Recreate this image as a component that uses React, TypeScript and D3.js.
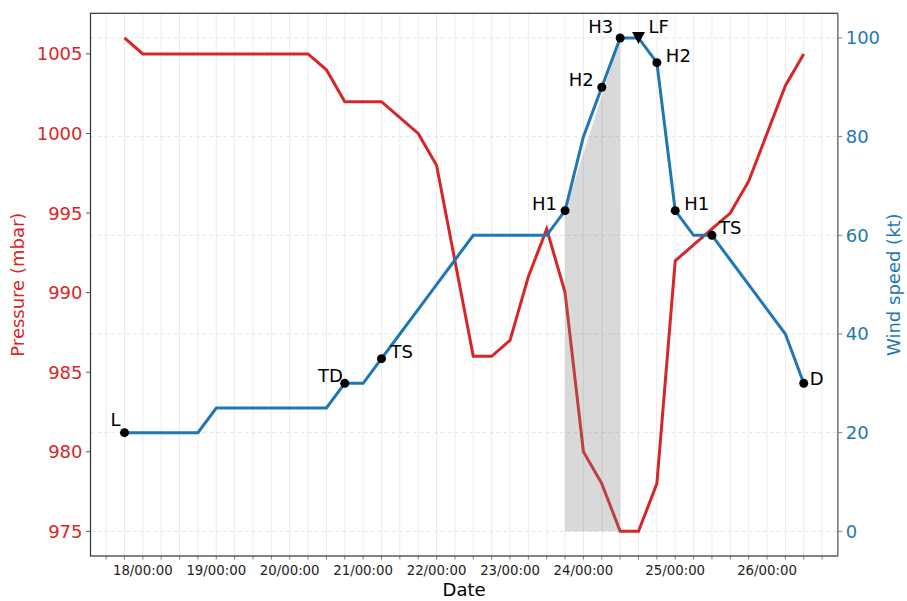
import React from "react";
import * as d3 from "d3";

// ---- Data ----
const dates: string[] = [
  "17/18:00", "18/00:00", "18/06:00", "18/12:00", "18/18:00",
  "19/00:00", "19/06:00", "19/12:00", "19/18:00",
  "20/00:00", "20/06:00", "20/12:00", "20/18:00",
  "21/00:00", "21/06:00", "21/12:00", "21/18:00",
  "22/00:00", "22/06:00", "22/12:00", "22/18:00",
  "23/00:00", "23/06:00", "23/12:00", "23/18:00",
  "24/00:00", "24/06:00", "24/12:00", "24/15:00", "24/18:00",
  "25/00:00", "25/06:00", "25/12:00", "25/18:00", "25/21:00",
  "26/00:00", "26/06:00", "26/12:00",
];

const pressure: number[] = [
  1006, 1005, 1005, 1005, 1005, 1005, 1005, 1005, 1005, 1005, 1005,
  1004, 1002, 1002, 1002, 1001, 1000, 998, 992, 986, 986, 987, 991,
  994, 990, 980, 978, 975, 975, 978, 992, 993, 994, 995, 997, 1000,
  1003, 1005,
];

const wind: number[] = [
  20, 20, 20, 20, 20, 25, 25, 25, 25, 25, 25, 25, 30, 30, 35, 40, 45,
  50, 55, 60, 60, 60, 60, 60, 65, 80, 90, 100, 100, 95, 65, 60, 60, 55,
  50, 45, 40, 30,
];

const statusIdx: number[] = [0, 12, 14, 24, 26, 27, 28, 29, 30, 32, 37];
const statusLabel: string[] = ["L", "TD", "TS", "H1", "H2", "H3", "LF", "H2", "H1", "TS", "D"];

const pressureTicks: number[] = [975, 980, 985, 990, 995, 1000, 1005];
const windTicks: number[] = [0, 20, 40, 60, 80, 100];

// shaded rapid-intensification span (indices)
const shadeIdx: number[] = [24, 27];

// label offsets (styling)
const labelStyle: Record<string, [number, number, string]> = {
  "0": [-4, -6, "end"],
  "12": [-2, 0, "end"],
  "14": [9, 0, "start"],
  "24": [-8, 0, "end"],
  "26": [-8, 0, "end"],
  "27": [-7, -4, "end"],
  "28": [10, -4, "start"],
  "29": [9, 0, "start"],
  "30": [9, 0, "start"],
  "32": [7, 0, "start"],
  "37": [6, 3, "start"],
};

const RED = "#d62728";
const BLUE = "#1f77b4";
const FONT = "DejaVu Sans, sans-serif";

export default function App() {
  const W = 907, H = 601;
  const L = 90.5, R = 837.7, T = 13.3, B = 556;
  const n = pressure.length;
  const margin = (n - 1) * 0.05;
  const x = d3.scaleLinear().domain([-margin, n - 1 + margin]).range([L, R]);
  const pMin = d3.min(pressure)!, pMax = d3.max(pressure)!;
  const pm = (pMax - pMin) * 0.05;
  const yP = d3.scaleLinear().domain([pMin - pm, pMax + pm]).range([B, T]);
  const wMax = d3.max(wind)!;
  const wm = (wMax - 0) * 0.05;
  const yW = d3.scaleLinear().domain([0 - wm, wMax + wm]).range([B, T]);

  const idx = d3.range(n);
  const pLine = d3.line<number>().x((i) => x(i)).y((i) => yP(pressure[i]))(idx)!;
  const wLine = d3.line<number>().x((i) => x(i)).y((i) => yW(wind[i]))(idx)!;

  const grid = d3.range(Math.ceil(-margin), Math.floor(n - 1 + margin) + 1);
  const majors = idx.filter((i) => dates[i].endsWith("00:00"));

  const [s0, s1] = shadeIdx;
  const shade = `M${x(s0)},${yW(0)}L${x(s0)},${yW(wind[s0])}L${x(s1)},${yW(wind[s1])}L${x(s1)},${yW(0)}Z`;

  return (
    <svg width={W} height={H} style={{ position: "absolute", left: 0, top: 0, background: "#fff" }} fontFamily={FONT}>
      <rect x={0} y={0} width={W} height={H} fill="#fff" />
      {/* vertical grid */}
      {grid.map((i) => (
        <line key={"g" + i} x1={x(i)} x2={x(i)} y1={T} y2={B} stroke="#ebebeb" strokeWidth={1} />
      ))}
      {/* horizontal dashed grid (wind axis) */}
      {windTicks.map((t) => (
        <line key={"hg" + t} x1={L} x2={R} y1={yW(t)} y2={yW(t)} stroke="#e3e3e3" strokeWidth={1} strokeDasharray="4,3" />
      ))}
      {/* pressure line */}
      <path d={pLine} fill="none" stroke={RED} strokeWidth={3} strokeLinejoin="miter" />
      {/* shading */}
      <path d={shade} fill="#808080" fillOpacity={0.3} />
      {/* wind line */}
      <path d={wLine} fill="none" stroke={BLUE} strokeWidth={3} />
      {/* status markers */}
      {statusIdx.map((i, k) => {
        const cx = x(i), cy = yW(wind[i]);
        const st = labelStyle[String(i)];
        const mark = statusLabel[k] === "LF" ? (
          <path d={`M${cx - 6.5},${cy - 6}L${cx + 6.5},${cy - 6}L${cx},${cy + 6}Z`} fill="#000" />
        ) : (
          <circle cx={cx} cy={cy} r={4.5} fill="#000" />
        );
        return (
          <g key={"s" + k}>
            {mark}
            <text x={cx + st[0]} y={cy + st[1] - 6} textAnchor={st[2] as any} dominantBaseline="middle" fontSize={18} fill="#000">
              {statusLabel[k]}
            </text>
          </g>
        );
      })}
      {/* spines */}
      <rect x={L} y={T} width={R - L} height={B - T} fill="none" stroke="#333" strokeWidth={1.2} />
      <line x1={R} x2={R} y1={T} y2={B} stroke="#808080" strokeWidth={1.2} />
      {/* x ticks */}
      {grid.map((i) => (
        <line key={"xt" + i} x1={x(i)} x2={x(i)} y1={B} y2={B + 3.5} stroke="#555" strokeWidth={0.8} />
      ))}
      {majors.map((i) => (
        <text key={"xl" + i} x={x(i)} y={B + 15} textAnchor="middle" dominantBaseline="middle" fontSize={13.3} fill="#222">
          {dates[i]}
        </text>
      ))}
      {/* left axis */}
      {pressureTicks.map((t) => (
        <g key={"pt" + t}>
          <line x1={L - 4.5} x2={L} y1={yP(t)} y2={yP(t)} stroke="#555" strokeWidth={1} />
          <text x={L - 8} y={yP(t)} textAnchor="end" dominantBaseline="central" fontSize={18} fill={RED}>{t}</text>
        </g>
      ))}
      {/* right axis */}
      {windTicks.map((t) => (
        <g key={"wt" + t}>
          <line x1={R} x2={R + 4.5} y1={yW(t)} y2={yW(t)} stroke="#808080" strokeWidth={1} />
          <text x={R + 8} y={yW(t)} textAnchor="start" dominantBaseline="central" fontSize={18} fill={BLUE}>{t}</text>
        </g>
      ))}
      {/* axis labels */}
      <text x={(L + R) / 2} y={591} textAnchor="middle" dominantBaseline="middle" fontSize={18} fill="#000">Date</text>
      <text transform={`translate(19,${(T + B) / 2}) rotate(-90)`} textAnchor="middle" dominantBaseline="middle" fontSize={18} fill={RED}>
        Pressure (mbar)
      </text>
      <text transform={`translate(895,${(T + B) / 2}) rotate(-90)`} textAnchor="middle" dominantBaseline="middle" fontSize={18} fill={BLUE}>
        Wind speed (kt)
      </text>
    </svg>
  );
}
